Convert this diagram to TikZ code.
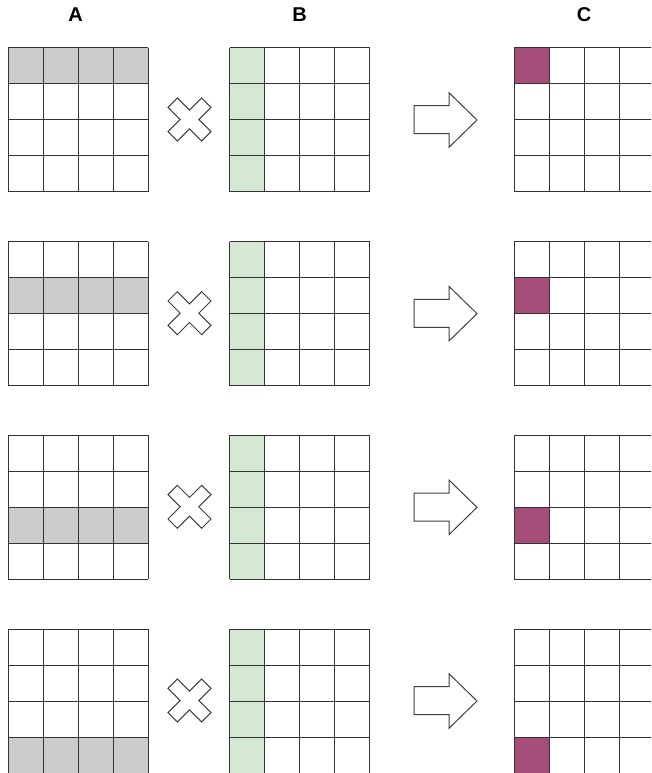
\documentclass[tikz,border=0pt]{standalone}
\usepackage{fontspec}
\setmainfont{Liberation Sans}
\definecolor{cellgray}{HTML}{CCCCCC}
\definecolor{cellgreen}{HTML}{D5E8D4}
\definecolor{cellmag}{HTML}{A64D79}
\begin{document}
\begin{tikzpicture}[x=0.75pt,y=-0.75pt,
  gridline/.style={draw=black!80,line width=0.75pt},
  shapeline/.style={draw=black!75,line width=0.75pt,fill=white,line join=miter},
  head/.style={font=\fontsize{15}{18}\selectfont\bfseries,inner sep=0pt}]
\useasboundingbox (0,0) rectangle (651,773);
\fill[white] (0,0) rectangle (651,773);
\clip (0,0) rectangle (651,773);
\node[head] (labA) at (75.5,15) {A};
\node[head] (labB) at (299.5,15) {B};
\node[head] (labC) at (584,15) {C};
\foreach \k in {0,1,2,3}{
  \pgfmathsetmacro\ty{48+193.67*\k}
  \begin{scope}[shift={(0,\ty)}]
    \fill[cellgray] (8,36*\k) rectangle ++(140,36);
    \fill[cellgreen] (229.5,0) rectangle ++(35,144);
    \fill[cellmag] (514,36*\k) rectangle ++(35,36);
    \foreach \gx in {8,229.5,514}{
      \foreach \i in {0,...,4}{
        \draw[gridline] (\gx+35*\i,0) -- ++(0,144);
        \draw[gridline] (\gx,36*\i) -- ++(140,0);
      }
    }
    \draw[shapeline,shift={(189.5,71.5)},rotate=45]
      (23.8,6.6) -- (6.6,6.6) -- (6.6,23.8) -- (-6.6,23.8) -- (-6.6,6.6) -- (-23.8,6.6)
      -- (-23.8,-6.6) -- (-6.6,-6.6) -- (-6.6,-23.8) -- (6.6,-23.8) -- (6.6,-6.6) -- (23.8,-6.6) -- cycle;
    \draw[shapeline] (414,57.7) -- (449,57.7) -- (449,44.7) -- (477,72) -- (449,99.3)
      -- (449,85.7) -- (414,85.7) -- cycle;
  \end{scope}
}
\end{tikzpicture}
\end{document}
